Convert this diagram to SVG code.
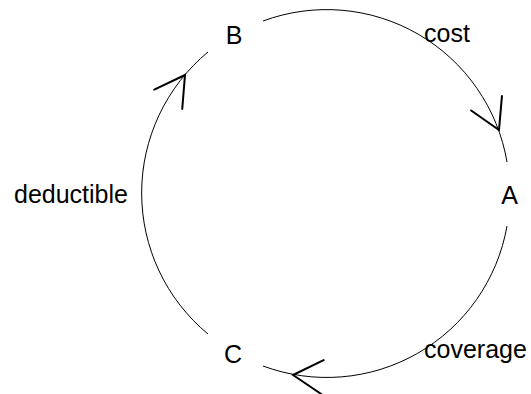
<svg xmlns="http://www.w3.org/2000/svg" width="531" height="394" viewBox="0 0 531 394">
<style>
text{font-family:"Liberation Sans",Arial,sans-serif;font-size:25px;fill:#000}
.node text{text-anchor:middle}
.edge{fill:none;stroke:#000;stroke-width:1}
.head{fill:none;stroke:#000;stroke-width:2;stroke-linecap:round;stroke-linejoin:miter}
</style>
<defs>
<path id="ah" class="head" d="M-29.5,-17 L0,0 L-29.5,17"/>
</defs>
<rect width="531" height="394" fill="#fff"/>
<g id="connectors">
<g id="edge-B-A">
<path class="edge" d="M263,21 A183,183 0 0,1 507,162"/>
<use href="#ah" transform="translate(499,130) rotate(65)"/>
<text x="424" y="42">cost</text>
</g>
<g id="edge-A-C">
<path class="edge" d="M507,226 A183,183 0 0,1 263,366"/>
<use href="#ah" transform="translate(293,375) rotate(184)"/>
<text x="424" y="358">coverage</text>
</g>
<g id="edge-C-B">
<path class="edge" d="M208,334 A183,183 0 0,1 208,52"/>
<use href="#ah" transform="translate(185,75) rotate(-55.4)"/>
<text x="14" y="203">deductible</text>
</g>
</g>
<g id="node-B" class="node"><text x="234" y="44">B</text></g>
<g id="node-A" class="node"><text x="509.5" y="204">A</text></g>
<g id="node-C" class="node"><text x="233" y="363">C</text></g>
</svg>
